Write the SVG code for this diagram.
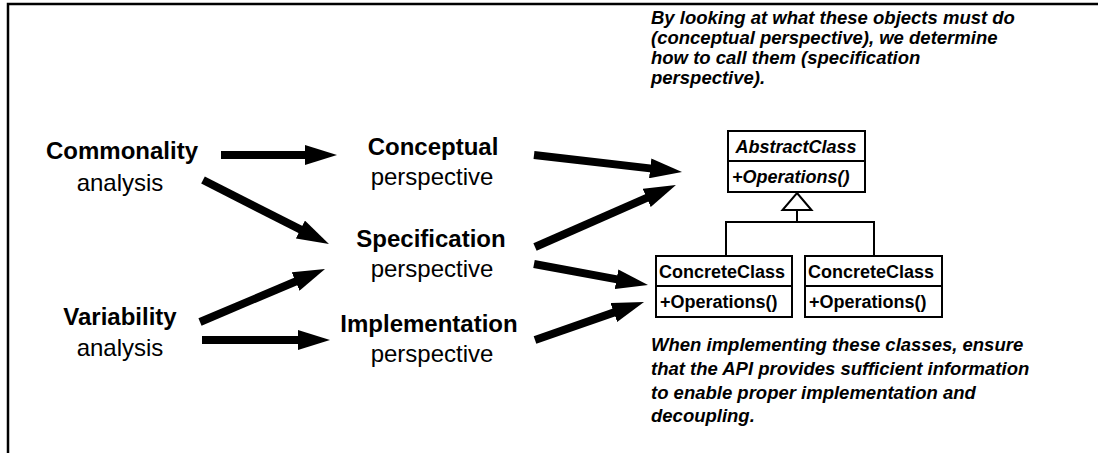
<svg xmlns="http://www.w3.org/2000/svg" width="1098" height="453" viewBox="0 0 1098 453">
  <style>
    text { font-family: "Liberation Sans", Arial, sans-serif; fill: #000; }
    .big { font-size: 24px; text-anchor: middle; }
    .b { font-weight: bold; }
    .note { font-size: 18.5px; font-weight: bold; font-style: italic; }
    .uml { font-size: 18px; font-weight: bold; }
    .box { fill: #fff; stroke: #000; stroke-width: 2; }
    .ln { fill: none; stroke: #000; stroke-width: 2; }
    .arrow { stroke: #000; stroke-width: 8; fill: none; marker-end: url(#head); }
  </style>
  <defs>
    <marker id="head" markerUnits="userSpaceOnUse" markerWidth="32" markerHeight="20" viewBox="0 0 32 20" refX="2" refY="10" orient="auto">
      <path d="M0,0 L32,10 L0,20 Z" fill="#000"/>
    </marker>
  </defs>

  <rect width="1098" height="453" fill="#fff"/>
  <!-- frame -->
  <path d="M8,453 V4 H1098" fill="none" stroke="#000" stroke-width="2.5"/>

  <!-- analysis nodes -->
  <g id="commonality">
    <text class="big b" x="122" y="159">Commonality</text>
    <text class="big" x="120" y="191">analysis</text>
  </g>
  <g id="variability">
    <text class="big b" x="120" y="325">Variability</text>
    <text class="big" x="120" y="356">analysis</text>
  </g>

  <!-- perspective nodes -->
  <g id="conceptual">
    <text class="big b" x="433" y="155">Conceptual</text>
    <text class="big" x="432" y="185">perspective</text>
  </g>
  <g id="specification">
    <text class="big b" x="431" y="247">Specification</text>
    <text class="big" x="432" y="277">perspective</text>
  </g>
  <g id="implementation">
    <text class="big b" x="429" y="332">Implementation</text>
    <text class="big" x="432" y="362">perspective</text>
  </g>

  <!-- class hierarchy -->
  <g id="abstract-class">
    <rect class="box" x="728" y="131" width="137" height="61"/>
    <line class="ln" x1="728" y1="161" x2="865" y2="161"/>
    <text class="uml" x="796" y="153" font-style="italic" text-anchor="middle">AbstractClass</text>
    <text class="uml" x="732" y="183" font-style="italic">+Operations()</text>
  </g>
  <g id="concrete-class-1">
    <rect class="box" x="656" y="256" width="136" height="61"/>
    <line class="ln" x1="656" y1="286" x2="792" y2="286"/>
    <text class="uml" x="659" y="278">ConcreteClass</text>
    <text class="uml" x="660" y="308">+Operations()</text>
  </g>
  <g id="concrete-class-2">
    <rect class="box" x="805" y="256" width="137" height="61"/>
    <line class="ln" x1="805" y1="286" x2="942" y2="286"/>
    <text class="uml" x="808" y="278">ConcreteClass</text>
    <text class="uml" x="809" y="308">+Operations()</text>
  </g>

  <!-- notes -->
  <g id="note-top">
    <text class="note" x="651" y="24">By looking at what these objects must do</text>
    <text class="note" x="651" y="44">(conceptual perspective), we determine</text>
    <text class="note" x="651" y="64">how to call them (specification</text>
    <text class="note" x="651" y="84">perspective).</text>
  </g>
  <g id="note-bottom">
    <text class="note" x="651" y="351">When implementing these classes, ensure</text>
    <text class="note" x="651" y="375">that the API provides sufficient information</text>
    <text class="note" x="651" y="399">to enable proper implementation and</text>
    <text class="note" x="651" y="422">decoupling.</text>
  </g>

  <!-- connectors -->
  <g id="connectors">
    <line class="arrow" x1="221" y1="155" x2="307" y2="155"/>
    <line class="arrow" x1="203" y1="180" x2="302.2" y2="230.4"/>
    <line class="arrow" x1="200" y1="322" x2="297.4" y2="280.7"/>
    <line class="arrow" x1="202" y1="340" x2="300" y2="340"/>
    <line class="arrow" x1="534" y1="155" x2="652.2" y2="168.6"/>
    <line class="arrow" x1="535" y1="247" x2="648.5" y2="197.1"/>
    <line class="arrow" x1="534" y1="264" x2="618.5" y2="279.6"/>
    <line class="arrow" x1="535" y1="340" x2="615.7" y2="311.9"/>
    <!-- generalization -->
    <path class="ln" d="M797,210 V222 M726,256 V222 H874 V256"/>
    <path d="M797,193 L811.5,210 H782.5 Z" fill="#fff" stroke="#000" stroke-width="2"/>
  </g>
</svg>
